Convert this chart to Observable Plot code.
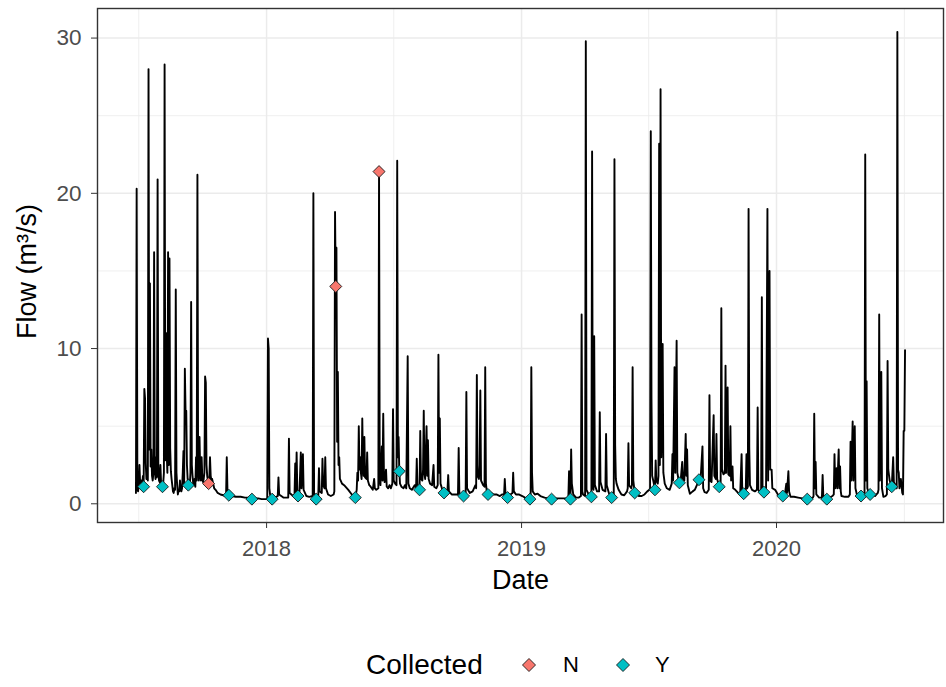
<!DOCTYPE html>
<html><head><meta charset="utf-8">
<script src="https://cdn.jsdelivr.net/npm/d3@7"></script>
<script src="https://cdn.jsdelivr.net/npm/@observablehq/plot@0.6"></script>
<style>
body{margin:0;background:#fff;font-family:'Liberation Sans',Arial,sans-serif;}
#wrap{width:946px;height:687px;position:relative;overflow:hidden;background:#fff;}
#legend{position:relative;height:87px;width:946px;}
#legend span{position:absolute;line-height:30px;color:#000;white-space:nowrap;}
#legend svg{position:absolute;}
</style></head><body>
<div id="wrap"><div id="chart"></div><div id="legend"></div></div>
<script>
// ---- data: daily flow (m3/s) ----
const flow2017 = [
["2017-06-28",0.7],["2017-06-29",20.3],["2017-06-30",1.0],["2017-07-01",0.8],["2017-07-02",1.2],["2017-07-03",2.5],["2017-07-04",1.3],["2017-07-05",1.4],["2017-07-06",1.5],["2017-07-07",1.3],["2017-07-08",1.8],["2017-07-09",1.1],["2017-07-10",7.4],["2017-07-11",6.8],["2017-07-12",2.6],["2017-07-13",1.6],["2017-07-14",2.2],["2017-07-15",1.5],["2017-07-16",28.0],["2017-07-17",3.5],["2017-07-18",14.2],["2017-07-19",2.4],["2017-07-20",3.5],["2017-07-21",1.8],["2017-07-22",1.5],["2017-07-23",2.0],["2017-07-24",16.2],["2017-07-25",2.2],["2017-07-26",1.6],["2017-07-27",3.0],["2017-07-28",1.7],["2017-07-29",20.9],["2017-07-30",2.4],["2017-07-31",1.5],
["2017-08-01",1.4],["2017-08-02",2.5],["2017-08-03",1.3],["2017-08-04",1.2],["2017-08-05",1.1],["2017-08-06",1.3],["2017-08-07",2.0],["2017-08-08",28.3],["2017-08-09",2.8],["2017-08-10",11.0],["2017-08-11",3.3],["2017-08-12",2.0],["2017-08-13",16.2],["2017-08-14",2.5],["2017-08-15",15.8],["2017-08-16",3.6],["2017-08-17",2.1],["2017-08-18",1.6],["2017-08-19",1.2],["2017-08-20",0.8],["2017-08-21",0.7],["2017-08-22",1.0],["2017-08-23",0.9],["2017-08-24",13.8],["2017-08-25",2.0],["2017-08-26",1.2],["2017-08-27",0.6],["2017-08-28",0.9],["2017-08-29",0.8],["2017-08-30",1.5],["2017-08-31",0.9],
["2017-09-01",0.8],["2017-09-02",1.0],["2017-09-03",2.0],["2017-09-04",3.4],["2017-09-05",1.2],["2017-09-06",8.7],["2017-09-07",6.0],["2017-09-08",6.0],["2017-09-09",2.5],["2017-09-10",1.6],["2017-09-11",1.2],["2017-09-12",1.5],["2017-09-13",1.1],["2017-09-14",2.0],["2017-09-15",13.0],["2017-09-16",2.5],["2017-09-17",1.8],["2017-09-18",1.3],["2017-09-19",1.2],["2017-09-20",1.6],["2017-09-21",1.1],["2017-09-22",3.0],["2017-09-23",1.5],["2017-09-24",21.2],["2017-09-25",2.4],["2017-09-26",1.5],["2017-09-27",4.3],["2017-09-28",2.0],["2017-09-29",1.5],["2017-09-30",3.0],
["2017-10-01",1.7],["2017-10-02",1.4],["2017-10-03",1.6],["2017-10-04",2.0],["2017-10-05",8.2],["2017-10-06",7.8],["2017-10-07",2.5],["2017-10-08",1.8],["2017-10-09",1.5],["2017-10-10",1.3],["2017-10-11",1.6],["2017-10-12",3.0],["2017-10-13",1.8],["2017-10-14",1.5],["2017-10-15",1.6],["2017-10-16",1.4],["2017-10-18",1.0],["2017-10-20",0.9],["2017-10-23",0.7],["2017-10-27",0.6],["2017-10-31",0.55],
["2017-11-03",0.5],["2017-11-04",0.5],["2017-11-05",3.0],["2017-11-06",0.9],["2017-11-07",0.6],["2017-11-08",0.55],["2017-11-12",0.5],["2017-11-18",0.45],["2017-11-25",0.45],["2017-12-01",0.4],["2017-12-05",0.4],["2017-12-11",0.3],["2017-12-15",0.35],["2017-12-20",0.35],["2017-12-25",0.3],["2017-12-31",0.3]
];
const flow2018 = [
["2018-01-01",0.3],["2018-01-02",0.4],["2018-01-03",10.65],["2018-01-04",10.0],["2018-01-05",1.0],["2018-01-06",0.6],["2018-01-08",0.4],["2018-01-09",0.3],["2018-01-12",0.4],["2018-01-17",0.5],["2018-01-18",1.7],["2018-01-19",0.6],["2018-01-25",0.4],
["2018-02-01",0.4],["2018-02-02",4.2],["2018-02-03",0.7],["2018-02-08",0.5],["2018-02-10",0.6],["2018-02-11",2.6],["2018-02-12",0.8],["2018-02-13",3.3],["2018-02-14",0.9],["2018-02-15",0.5],["2018-02-17",0.6],["2018-02-19",3.3],["2018-02-20",1.0],["2018-02-22",3.2],["2018-02-23",0.9],["2018-02-27",0.5],
["2018-03-03",0.45],["2018-03-08",0.5],["2018-03-09",20.0],["2018-03-10",0.7],["2018-03-13",0.3],["2018-03-16",0.5],["2018-03-17",2.3],["2018-03-18",0.8],["2018-03-21",0.7],["2018-03-22",2.9],["2018-03-23",1.2],["2018-03-25",1.0],["2018-03-26",3.0],["2018-03-27",1.0],["2018-03-30",0.6],
["2018-04-03",0.5],["2018-04-07",0.6],["2018-04-08",0.8],["2018-04-09",18.8],["2018-04-10",14.0],["2018-04-11",16.5],["2018-04-12",4.0],["2018-04-13",8.5],["2018-04-14",2.5],["2018-04-15",3.0],["2018-04-16",1.6],["2018-04-19",1.3],["2018-04-22",1.2],["2018-04-28",0.9],
["2018-05-03",0.6],["2018-05-08",0.4],["2018-05-10",0.9],["2018-05-11",2.0],["2018-05-12",1.5],["2018-05-13",5.0],["2018-05-14",2.2],["2018-05-15",3.0],["2018-05-16",2.0],["2018-05-17",1.6],["2018-05-18",5.5],["2018-05-19",2.5],["2018-05-20",1.8],["2018-05-21",4.3],["2018-05-22",1.7],["2018-05-24",1.6],["2018-05-25",3.3],["2018-05-26",1.5],["2018-05-28",1.2],["2018-05-30",1.1],
["2018-06-02",0.9],["2018-06-04",1.6],["2018-06-05",1.0],["2018-06-07",0.9],["2018-06-10",1.0],["2018-06-11",21.4],["2018-06-12",1.6],["2018-06-13",1.2],["2018-06-15",3.7],["2018-06-16",1.5],["2018-06-17",5.8],["2018-06-18",1.9],["2018-06-19",1.4],["2018-06-21",2.2],["2018-06-22",1.1],["2018-06-24",1.0],["2018-06-26",1.2],["2018-06-28",1.0],["2018-06-30",1.3],
["2018-07-01",6.1],["2018-07-02",1.5],["2018-07-04",1.3],["2018-07-06",1.2],["2018-07-07",22.1],["2018-07-08",3.0],["2018-07-09",4.3],["2018-07-10",2.1],["2018-07-11",1.3],["2018-07-13",1.1],["2018-07-16",1.0],["2018-07-18",1.2],["2018-07-20",1.0],["2018-07-22",9.5],["2018-07-23",1.3],["2018-07-25",1.0],["2018-07-28",0.9],
["2018-08-01",1.2],["2018-08-03",1.0],["2018-08-04",2.9],["2018-08-05",1.1],["2018-08-07",1.0],["2018-08-08",0.9],["2018-08-09",4.7],["2018-08-10",1.6],["2018-08-12",1.5],["2018-08-13",2.2],["2018-08-14",6.0],["2018-08-15",2.0],["2018-08-16",1.6],["2018-08-18",5.0],["2018-08-19",1.8],["2018-08-20",4.1],["2018-08-21",1.6],["2018-08-23",1.3],["2018-08-26",1.2],["2018-08-28",2.5],["2018-08-29",1.1],
["2018-09-01",1.0],["2018-09-03",1.2],["2018-09-04",9.6],["2018-09-05",2.0],["2018-09-06",5.5],["2018-09-07",1.3],["2018-09-09",1.0],["2018-09-12",0.7],["2018-09-15",0.8],["2018-09-17",0.9],["2018-09-18",1.85],["2018-09-19",0.8],["2018-09-23",0.6],["2018-09-28",0.6],
["2018-10-02",0.6],["2018-10-03",3.6],["2018-10-04",0.7],["2018-10-07",0.5],["2018-10-10",0.5],["2018-10-13",0.7],["2018-10-14",7.2],["2018-10-15",1.0],["2018-10-19",0.7],["2018-10-23",0.8],["2018-10-27",1.2],["2018-10-28",1.0],["2018-10-29",8.3],["2018-10-30",1.8],
["2018-11-01",1.6],["2018-11-02",2.5],["2018-11-03",7.3],["2018-11-04",1.5],["2018-11-07",1.2],["2018-11-09",1.1],["2018-11-10",8.8],["2018-11-11",1.3],["2018-11-12",0.9],["2018-11-14",0.6],["2018-11-18",0.7],["2018-11-22",0.6],["2018-11-26",0.6],
["2018-12-01",0.5],["2018-12-04",0.6],["2018-12-07",0.6],["2018-12-08",1.6],["2018-12-09",0.7],["2018-12-12",0.4],["2018-12-16",0.6],["2018-12-19",0.7],["2018-12-20",2.0],["2018-12-21",0.8],["2018-12-24",0.6],["2018-12-28",0.6]
];
const flow2019 = [
["2019-01-02",0.5],["2019-01-06",0.4],["2019-01-10",0.35],["2019-01-13",0.3],["2019-01-14",0.4],["2019-01-15",8.8],["2019-01-16",2.0],["2019-01-17",0.8],["2019-01-20",0.6],["2019-01-24",0.65],["2019-01-28",0.5],
["2019-02-03",0.4],["2019-02-08",0.35],["2019-02-13",0.3],["2019-02-18",0.35],["2019-02-24",0.35],
["2019-03-02",0.35],["2019-03-06",0.35],["2019-03-09",0.4],["2019-03-10",2.1],["2019-03-11",0.6],["2019-03-12",0.3],["2019-03-13",3.5],["2019-03-14",1.3],["2019-03-16",0.6],["2019-03-20",0.4],["2019-03-24",0.4],["2019-03-27",0.5],["2019-03-28",12.2],["2019-03-29",0.8],["2019-03-30",0.6],
["2019-04-02",0.5],["2019-04-03",29.8],["2019-04-04",0.9],["2019-04-07",0.6],["2019-04-11",0.45],["2019-04-12",22.7],["2019-04-13",1.2],["2019-04-14",0.9],["2019-04-15",10.8],["2019-04-16",1.2],["2019-04-19",0.8],["2019-04-22",0.8],["2019-04-23",5.9],["2019-04-24",1.4],["2019-04-27",0.9],
["2019-05-01",0.8],["2019-05-02",4.5],["2019-05-03",1.2],["2019-05-06",0.7],["2019-05-10",0.4],["2019-05-13",0.6],["2019-05-14",22.2],["2019-05-15",3.8],["2019-05-16",1.6],["2019-05-17",1.3],["2019-05-20",0.9],["2019-05-24",0.6],["2019-05-28",0.55],
["2019-06-01",0.8],["2019-06-02",1.0],["2019-06-03",3.9],["2019-06-04",1.2],["2019-06-07",1.0],["2019-06-08",1.2],["2019-06-09",8.8],["2019-06-10",1.5],["2019-06-12",0.7],["2019-06-15",0.8],["2019-06-18",0.5],["2019-06-22",0.5],["2019-06-26",0.6],["2019-06-30",0.8],
["2019-07-03",0.9],["2019-07-04",1.0],["2019-07-05",24.0],["2019-07-06",6.8],["2019-07-07",1.8],["2019-07-09",1.4],["2019-07-11",0.9],["2019-07-12",2.8],["2019-07-13",1.5],["2019-07-15",1.3],["2019-07-16",1.8],["2019-07-17",23.2],["2019-07-18",2.5],["2019-07-19",26.7],["2019-07-20",3.0],["2019-07-22",10.3],["2019-07-23",2.0],["2019-07-25",1.3],["2019-07-28",1.0],
["2019-08-01",0.9],["2019-08-04",1.3],["2019-08-05",3.2],["2019-08-06",1.5],["2019-08-08",8.8],["2019-08-09",2.0],["2019-08-11",10.5],["2019-08-12",2.0],["2019-08-14",1.5],["2019-08-15",1.35],["2019-08-17",1.6],["2019-08-19",2.7],["2019-08-20",1.6],["2019-08-22",1.5],["2019-08-24",4.5],["2019-08-25",1.8],["2019-08-26",3.5],["2019-08-27",1.2],["2019-08-30",0.65],
["2019-09-03",0.8],["2019-09-06",0.9],["2019-09-09",1.2],["2019-09-12",1.55],["2019-09-14",1.3],["2019-09-17",3.7],["2019-09-18",1.0],["2019-09-20",0.75],["2019-09-23",0.7],["2019-09-26",0.9],["2019-09-27",7.0],["2019-09-28",1.5],["2019-09-30",1.4],
["2019-10-01",2.8],["2019-10-03",5.7],["2019-10-04",1.8],["2019-10-06",1.6],["2019-10-07",4.5],["2019-10-08",1.6],["2019-10-11",1.1],["2019-10-13",1.4],["2019-10-14",12.6],["2019-10-15",2.2],["2019-10-17",1.9],["2019-10-19",2.0],["2019-10-20",8.9],["2019-10-21",2.0],["2019-10-23",7.5],["2019-10-24",1.9],["2019-10-26",1.8],["2019-10-27",5.0],["2019-10-28",1.5],["2019-10-30",2.4],["2019-10-31",1.0],
["2019-11-03",0.9],["2019-11-07",0.7],["2019-11-10",0.6],["2019-11-12",3.2],["2019-11-13",0.8],["2019-11-15",0.65],["2019-11-18",0.9],["2019-11-19",3.2],["2019-11-20",1.0],["2019-11-21",1.1],["2019-11-22",19.0],["2019-11-23",3.6],["2019-11-24",1.2],["2019-11-27",0.9],
["2019-12-01",0.8],["2019-12-04",0.9],["2019-12-05",6.2],["2019-12-06",0.9],["2019-12-08",0.8],["2019-12-10",0.9],["2019-12-11",13.3],["2019-12-12",1.1],["2019-12-14",0.75],["2019-12-17",0.8],["2019-12-19",19.0],["2019-12-20",1.5],["2019-12-22",15.0],["2019-12-23",2.2],["2019-12-25",2.2],["2019-12-26",1.0],["2019-12-30",0.9]
];
const flow2020 = [
["2020-01-03",0.6],["2020-01-07",0.5],["2020-01-10",0.5],["2020-01-13",0.6],["2020-01-15",1.3],["2020-01-16",0.7],["2020-01-18",2.1],["2020-01-19",0.8],["2020-01-21",0.45],["2020-01-26",0.45],
["2020-02-01",0.4],["2020-02-07",0.35],["2020-02-14",0.3],["2020-02-18",0.35],["2020-02-22",0.4],["2020-02-23",0.5],["2020-02-24",5.8],["2020-02-25",1.0],["2020-02-26",2.7],["2020-02-27",0.6],
["2020-03-02",0.4],["2020-03-06",0.4],["2020-03-07",1.85],["2020-03-08",0.5],["2020-03-13",0.3],["2020-03-17",0.4],["2020-03-21",0.5],["2020-03-23",0.6],["2020-03-24",3.2],["2020-03-25",1.0],["2020-03-27",2.3],["2020-03-28",1.0],["2020-03-30",3.5],["2020-03-31",1.0],
["2020-04-01",2.4],["2020-04-02",0.8],["2020-04-03",0.5],["2020-04-08",0.45],["2020-04-13",0.45],["2020-04-15",0.6],["2020-04-16",4.0],["2020-04-17",1.5],["2020-04-19",5.3],["2020-04-20",1.5],["2020-04-22",5.0],["2020-04-23",1.0],["2020-04-25",0.6],["2020-04-28",0.5],
["2020-05-01",0.5],["2020-05-04",0.5],["2020-05-06",0.6],["2020-05-07",22.5],["2020-05-08",1.5],["2020-05-09",7.9],["2020-05-10",1.0],["2020-05-12",0.7],["2020-05-14",0.6],["2020-05-17",0.6],["2020-05-21",0.5],["2020-05-25",0.7],["2020-05-26",0.9],["2020-05-27",12.2],["2020-05-28",1.5],["2020-05-30",8.5],["2020-05-31",1.0],
["2020-06-02",0.45],["2020-06-05",0.5],["2020-06-07",0.6],["2020-06-08",9.2],["2020-06-09",2.2],["2020-06-11",1.5],["2020-06-14",1.1],["2020-06-16",3.0],["2020-06-17",1.4],["2020-06-19",1.2],["2020-06-21",1.0],["2020-06-22",30.4],["2020-06-23",2.2],["2020-06-24",2.0],["2020-06-25",1.0],["2020-06-27",1.6],["2020-06-29",0.7],["2020-06-30",0.6],
["2020-07-01",4.7],["2020-07-02",4.7],["2020-07-03",9.9]
];

// ---- data: sampling visits ----
const sampleDates = ["2017-07-09","2017-08-05","2017-09-11","2017-10-10","2017-11-08","2017-12-11","2018-01-09","2018-02-15","2018-03-13","2018-04-10","2018-05-08","2018-06-11","2018-07-10","2018-08-08","2018-09-12","2018-10-10","2018-11-14","2018-12-12","2019-01-13","2019-02-13","2019-03-12","2019-04-11","2019-05-10","2019-06-12","2019-07-11","2019-08-15","2019-09-12","2019-10-11","2019-11-15","2019-12-14","2020-01-10","2020-02-14","2020-03-13","2020-05-01","2020-05-14","2020-06-14"];
const sampleFlow = [1.1,1.1,1.2,1.3,0.55,0.3,0.3,0.5,0.3,14.0,0.4,21.4,2.1,0.9,0.7,0.5,0.6,0.4,0.3,0.3,0.3,0.45,0.4,0.7,0.9,1.35,1.55,1.1,0.65,0.75,0.5,0.3,0.3,0.5,0.6,1.1];
const sampleCollected = ["Y","Y","Y","N","Y","Y","Y","Y","Y","N","Y","N","Y","Y","Y","Y","Y","Y","Y","Y","Y","Y","Y","Y","Y","Y","Y","Y","Y","Y","Y","Y","Y","Y","Y","Y"];

const collectedCategories = ["N","Y"];
const collectedColors = ["#F8766D","#00BFC4"];

// ---- axis breaks ----
const yTicks = [0,10,20,30];
const yMinor = [5,15,25];
const xTicks = ["2018-01-01","2019-01-01","2020-01-01"];
const xMinor = ["2017-07-02","2018-07-02","2019-07-02","2020-07-02"];

// ---- build tables ----
const flow = [...flow2017, ...flow2018, ...flow2019, ...flow2020].map(([d,v]) => ({date: new Date(d), flow: v}));
const samples = sampleDates.map((d,i) => ({date: new Date(d), flow: sampleFlow[i], collected: sampleCollected[i]}));
const xTickDates = xTicks.map(d => new Date(d));
const xMinorDates = xMinor.map(d => new Date(d));

const [d0, d1] = d3.extent(flow.map(d => d.date).concat(samples.map(d => d.date)));
const dpad = (d1 - d0) * 0.05;
const [v0, v1] = d3.extent(flow.map(d => d.flow).concat(sampleFlow));
const vpad = (v1 - v0) * 0.05;

const grid = "#EBEBEB";
const chart = Plot.plot({
  width: 946, height: 600,
  marginLeft: 97, marginRight: 3, marginTop: 8, marginBottom: 78,
  style: {fontFamily: "'Liberation Sans', Arial, sans-serif", fontSize: "22px", background: "#fff", overflow: "visible"},
  x: {type: "utc", domain: [new Date(+d0 - dpad), new Date(+d1 + dpad)]},
  y: {domain: [v0 - vpad, v1 + vpad]},
  color: {domain: collectedCategories, range: collectedColors},
  marks: [
    Plot.ruleY(yMinor, {stroke: grid, strokeWidth: 0.8}),
    Plot.ruleX(xMinorDates, {stroke: grid, strokeWidth: 0.8}),
    Plot.ruleY(yTicks, {stroke: grid, strokeWidth: 1.5}),
    Plot.ruleX(xTickDates, {stroke: grid, strokeWidth: 1.5}),
    Plot.line(flow, {x: "date", y: "flow", stroke: "#000", strokeWidth: 1.9}),
    Plot.dot(samples, {x: "date", y: "flow", fill: "collected", symbol: "diamond2", r: 5.4, stroke: "#1a1a1a", strokeWidth: 0.9}),
    Plot.frame({stroke: "#333", strokeWidth: 1.4}),
    Plot.axisX({ticks: xTickDates, tickFormat: d3.utcFormat("%Y"), tickSize: 6, tickPadding: 12, stroke: "#333", fill: "#4D4D4D", fontSize: 22, label: null}),
    Plot.axisY({ticks: yTicks, tickSize: 6, tickPadding: 10, stroke: "#333", fill: "#4D4D4D", fontSize: 22.5, label: null}),
    Plot.text(["Date"], {text: d => d, frameAnchor: "bottom", dy: 58, lineAnchor: "middle", textAnchor: "middle", fontSize: 27, fill: "#000"}),
    Plot.text(["Flow (m³/s)"], {text: d => d, frameAnchor: "left", dx: -70, dy: 6, rotate: -90, textAnchor: "middle", lineAnchor: "middle", fontSize: 27, fill: "#000"})
  ]
});
document.getElementById("chart").appendChild(chart);

// ---- legend below the plot ----
const legend = document.getElementById("legend");
function addSpan(txt, left, size){
  const s = document.createElement("span");
  s.textContent = txt; s.style.left = left + "px"; s.style.top = "50px"; s.style.fontSize = size + "px";
  legend.appendChild(s);
}
function addDiamond(color, cx){
  const ns = "http://www.w3.org/2000/svg";
  const svg = document.createElementNS(ns, "svg");
  svg.setAttribute("width", 18); svg.setAttribute("height", 18);
  svg.style.left = (cx - 9) + "px"; svg.style.top = "56px";
  const p = document.createElementNS(ns, "path");
  p.setAttribute("d", "M9,2.5L15.5,9L9,15.5L2.5,9Z");
  p.setAttribute("fill", color); p.setAttribute("stroke", "#1a1a1a"); p.setAttribute("stroke-width", "0.9");
  svg.appendChild(p); legend.appendChild(svg);
}
addSpan("Collected", 366, 28);
const swatchX = [529, 623], labelX = [563, 655];
collectedCategories.forEach((c, i) => { addDiamond(collectedColors[i], swatchX[i]); addSpan(c, labelX[i], 22); });
</script>
</body></html>
